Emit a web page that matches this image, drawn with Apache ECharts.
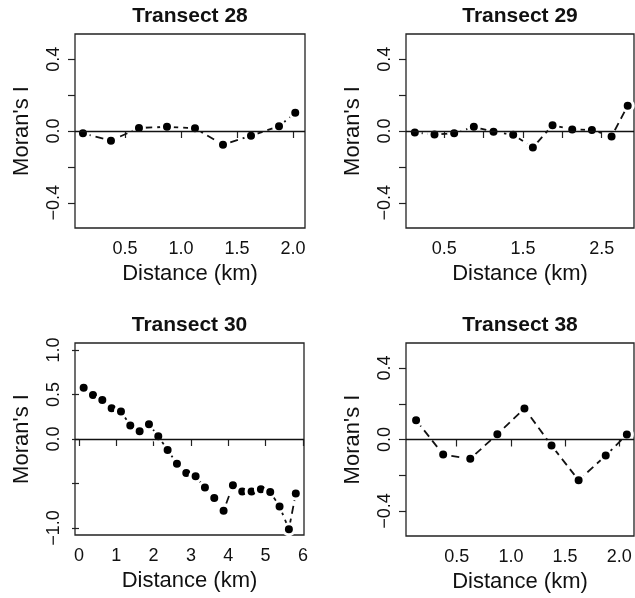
<!DOCTYPE html>
<html><head><meta charset="utf-8">
<script src="https://cdn.jsdelivr.net/npm/echarts@6/dist/echarts.min.js"></script>
<style>html,body{margin:0;padding:0;background:#fff}#c{width:635px;height:598px}</style>
</head><body><div id="c"></div>
<script>
const titles = ['Transect 28', 'Transect 29', 'Transect 30', 'Transect 38'];
const xTitle = 'Distance (km)';
const yTitle = "Moran's I";

const x28 = [0.125, 0.375, 0.625, 0.875, 1.125, 1.375, 1.625, 1.875, 2.02];
const y28 = [-0.013, -0.054, 0.017, 0.023, 0.015, -0.077, -0.026, 0.026, 0.101];

const x29 = [0.125, 0.375, 0.625, 0.875, 1.125, 1.375, 1.625, 1.875, 2.125, 2.375, 2.625, 2.83];
const y29 = [-0.008, -0.019, -0.013, 0.023, -0.004, -0.021, -0.092, 0.032, 0.009, 0.006, -0.030, 0.141];

const x30 = [0.125, 0.375, 0.625, 0.875, 1.125, 1.375, 1.625, 1.875, 2.125, 2.375, 2.625, 2.875,
             3.125, 3.375, 3.625, 3.875, 4.125, 4.375, 4.625, 4.875, 5.125, 5.375, 5.625, 5.81];
const y30 = [0.576, 0.494, 0.439, 0.346, 0.309, 0.152, 0.086, 0.167, 0.030, -0.123, -0.279, -0.383,
             -0.420, -0.546, -0.665, -0.807, -0.520, -0.591, -0.591, -0.565, -0.595, -0.758, -1.015, -0.613];

const x38 = [0.125, 0.375, 0.625, 0.875, 1.125, 1.375, 1.625, 1.875, 2.07];
const y38 = [0.108, -0.084, -0.108, 0.030, 0.174, -0.034, -0.228, -0.090, 0.028];

const xTicks28 = [0.5, 1.0, 1.5, 2.0];
const xLabels28 = [0.5, 1.0, 1.5, 2.0];
const xTicks29 = [0.5, 1.0, 1.5, 2.0, 2.5];
const xLabels29 = [0.5, 1.5, 2.5];
const xTicks30 = [0, 1, 2, 3, 4, 5, 6];
const xLabels30 = [0, 1, 2, 3, 4, 5, 6];
const xTicks38 = [0.5, 1.0, 1.5, 2.0];
const xLabels38 = [0.5, 1.0, 1.5, 2.0];

const yTicksSmall = [-0.4, -0.2, 0, 0.2, 0.4];
const yLabelsSmall = [-0.4, 0, 0.4];
const yTicks30 = [-1, -0.5, 0, 0.5, 1];
const yLabels30 = [-1, 0, 0.5, 1];

const xRanges = [[0.054, 2.107], [0.013, 2.91], [-0.107, 6.03], [0.032, 2.136]];
const yRanges = [[-0.54, 0.54], [-0.54, 0.54], [-1.08, 1.08], [-0.54, 0.54]];

const panels = [
  { x: x28, y: y28, xt: xTicks28, xl: xLabels28, yt: yTicksSmall, yl: yLabelsSmall },
  { x: x29, y: y29, xt: xTicks29, xl: xLabels29, yt: yTicksSmall, yl: yLabelsSmall },
  { x: x30, y: y30, xt: xTicks30, xl: xLabels30, yt: yTicks30, yl: yLabels30 },
  { x: x38, y: y38, xt: xTicks38, xl: xLabels38, yt: yTicksSmall, yl: yLabelsSmall }
];

const grids = [
  { left: 75, top: 34, width: 230, height: 194 },
  { left: 406, top: 34, width: 228, height: 194 },
  { left: 75, top: 343, width: 229, height: 192 },
  { left: 406, top: 343, width: 228, height: 193 }
];

const FONT = '"Liberation Sans", Arial, Helvetica, sans-serif';
const INK = '#111';
const fmt1 = v => (v < 0 ? '\u2212' : '') + Math.abs(v).toFixed(1);
const fmt0 = v => (v < 0 ? '\u2212' : '') + String(Math.abs(Math.round(v)));

const option = {
  animation: false,
  backgroundColor: '#fff',
  title: [], grid: [], xAxis: [], yAxis: [], series: []
};

panels.forEach((p, i) => {
  const g = grids[i];
  option.title.push({
    text: titles[i], left: g.left + g.width / 2, top: i < 2 ? 6 : 315,
    textAlign: 'center', padding: 0,
    textStyle: { fontFamily: FONT, fontSize: 21, fontWeight: 'bold', color: INK }
  });
  option.grid.push(Object.assign({ show: true, borderColor: '#222', borderWidth: 1.3, backgroundColor: 'transparent', containLabel: false }, g));
  option.xAxis.push({
    type: 'value', gridIndex: i, min: xRanges[i][0], max: xRanges[i][1],
    name: xTitle, nameLocation: 'middle', nameGap: 35,
    nameTextStyle: { fontFamily: FONT, fontSize: 22, color: INK },
    axisLine: { show: false },
    axisTick: { show: true, length: 7, inside: false, customValues: p.xt, lineStyle: { color: '#222', width: 1.2 } },
    axisLabel: { show: true, margin: 12, customValues: p.xl, fontFamily: FONT, fontSize: 18, color: INK,
                 formatter: i === 2 ? fmt0 : fmt1 },
    splitLine: { show: false }
  });
  option.yAxis.push({
    type: 'value', gridIndex: i, min: yRanges[i][0], max: yRanges[i][1],
    name: yTitle, nameLocation: 'middle', nameGap: 42, nameRotate: 90,
    nameTextStyle: { fontFamily: FONT, fontSize: 22, color: INK },
    axisLine: { show: false },
    axisTick: { show: true, length: 7, inside: false, customValues: p.yt, lineStyle: { color: '#222', width: 1.2 } },
    axisLabel: { show: true, rotate: 90, margin: 12, customValues: p.yl, fontFamily: FONT, fontSize: 18, color: INK,
                 formatter: fmt1 },
    splitLine: { show: false }
  });
  option.series.push({
    type: 'line', xAxisIndex: i, yAxisIndex: i, z: 3,
    data: p.x.map((xv, k) => [xv, p.y[k]]),
    symbol: 'circle', symbolSize: 11,
    itemStyle: { color: '#000', borderColor: '#fff', borderWidth: 3 },
    lineStyle: { color: '#111', width: 1.8, type: [8, 5] },
    emphasis: { disabled: true }
  });
  option.series.push({
    type: 'line', xAxisIndex: i, yAxisIndex: i, z: 5, data: [],
    markLine: {
      silent: true, symbol: ['none', 'none'], label: { show: false },
      lineStyle: { color: '#111', width: 1.3, type: 'solid' },
      data: [{ yAxis: 0 }]
    }
  });
});

const chart = echarts.init(document.getElementById('c'), null, { renderer: 'canvas' });
chart.setOption(option);
</script>
</body></html>
